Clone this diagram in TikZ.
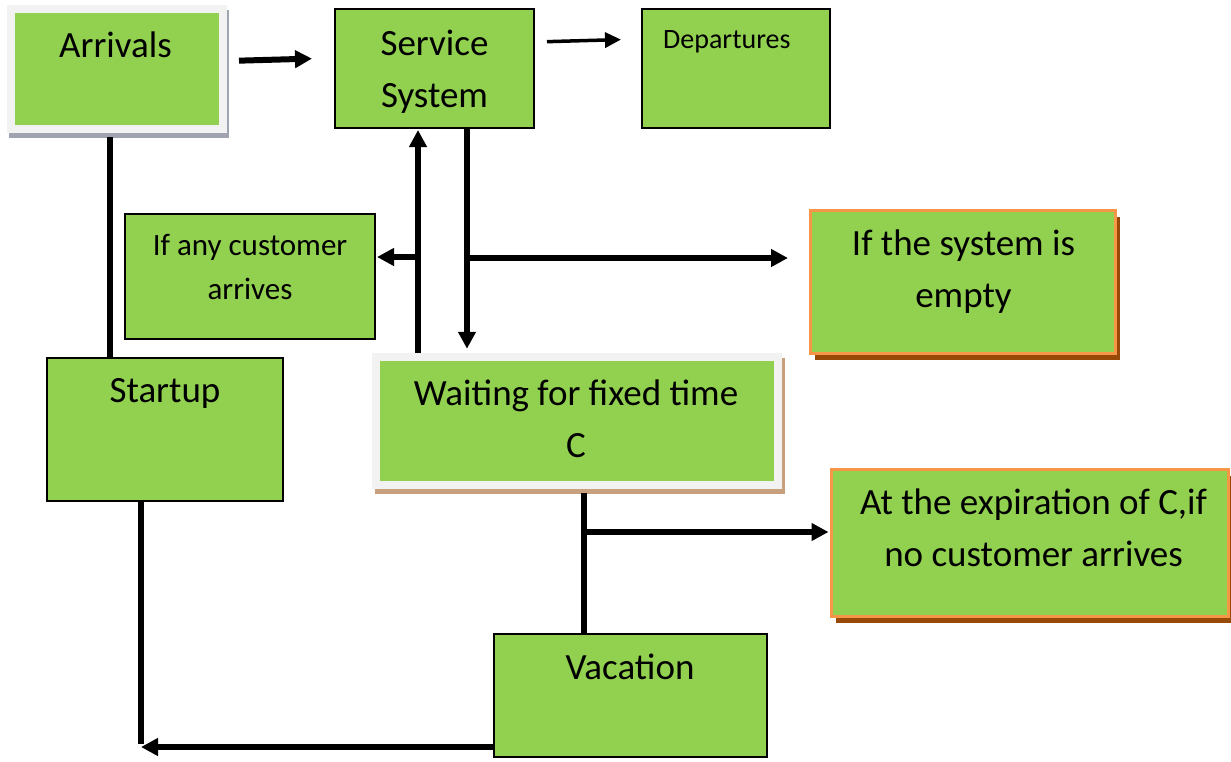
\documentclass[tikz,border=0pt]{standalone}
\usepackage{fontspec}
\setmainfont{Carlito}
\usetikzlibrary{arrows.meta, positioning, shadows}
\definecolor{boxgreen}{RGB}{146, 208, 80}
\definecolor{framegray}{RGB}{242, 242, 242}
\definecolor{noteorange}{RGB}{247, 150, 70}
\definecolor{notebrown}{RGB}{152, 72, 7}
\definecolor{shadowgray}{RGB}{160, 164, 176}
\definecolor{shadowtan}{RGB}{200, 160, 125}
\tikzset{
  stagebox/.style={rectangle, draw=black, line width=2pt, fill=boxgreen, inner sep=0pt},
  framebox/.style={rectangle, draw=framegray, line width=8pt, fill=boxgreen, inner sep=0pt},
  notebox/.style={rectangle, draw=noteorange, line width=3pt, fill=boxgreen, inner sep=0pt,
    general shadow={fill=notebrown, shadow xshift=4pt, shadow yshift=-6pt}},
  boxtext/.style={font=\fontsize{37}{52}\selectfont, align=center, inner sep=0pt, anchor=base},
  flow/.style={line width=6pt, -{Triangle[length=17pt, width=17pt]}},
  wire/.style={line width=6pt}
}

\begin{document}
\begin{tikzpicture}[x=1pt, y=-1pt]
\useasboundingbox (0,0) rectangle (1231,761);

% Top row
\node (arrivals) [framebox, minimum width=212pt, minimum height=120pt,
  general shadow={draw=shadowgray, fill=shadowgray, line width=8pt, shadow xshift=2pt, shadow yshift=-5pt}] at (117,69) {};
\node (service) [stagebox, minimum width=199pt, minimum height=119pt] at (434.5,68.5) {};
\node (departures) [stagebox, minimum width=188pt, minimum height=119pt] at (736,68.5) {};

% Middle row
\node (anycust) [stagebox, minimum width=250pt, minimum height=125pt] at (250,276.5) {};
\node (empty) [notebox, minimum width=305pt, minimum height=143pt] at (963,282) {};
\node (startup) [stagebox, minimum width=236pt, minimum height=143pt] at (165,429.5) {};
\node (waiting) [framebox, minimum width=402pt, minimum height=128.5pt,
  general shadow={draw=shadowtan, fill=shadowtan, line width=8pt, shadow xshift=3pt, shadow yshift=-5pt}] at (577,421) {};

% Bottom row
\node (expire) [notebox, minimum width=397pt, minimum height=147pt] at (1030,543) {};
\node (vacation) [stagebox, minimum width=273pt, minimum height=123pt] at (630.5,695.5) {};

% Labels (base sits on the last line)
\node (arrivalslbl) [boxtext] at (115.5,57) {Arrivals};
\node (servicelbl) [boxtext] at (434.5,107) {Service\\System};
\node (departureslbl) [boxtext, anchor=base west, font=\fontsize{28}{34}\selectfont] at (663,48) {Departures};
\node (anycustlbl) [boxtext, font=\fontsize{31}{44}\selectfont] at (250,299) {If any customer\\arrives};
\node (emptylbl) [boxtext] at (963.5,307) {If the system is\\empty};
\node (startuplbl) [boxtext] at (165,402) {Startup};
\node (waitinglbl) [boxtext] at (576,457) {Waiting for fixed time\\C};
\node (expirelbl) [boxtext] at (1033.5,566) {At the expiration of C,if\\no customer arrives};
\node (vacationlbl) [boxtext] at (630,679) {Vacation};

% Branch points
\coordinate (upleft) at (418,257);
\coordinate (downright) at (467,258);
\coordinate (waitbranch) at (584,532);
\coordinate (corner) at (141,747);

% Connectors
\draw [flow, shorten <=12pt, shorten >=22pt] ([yshift=8pt]arrivals.east) -- ([yshift=10.5pt]service.west);
\draw [line width=3.5pt, -{Triangle[length=16pt, width=15pt]}, shorten <=12pt, shorten >=20pt]
  ([yshift=26.5pt]service.east) -- ([yshift=29.5pt]departures.west);
\draw [wire, shorten <=4pt] ([xshift=-7pt]arrivals.south) -- ([xshift=-7pt]arrivals.south |- startup.north);
\draw [flow, shorten >=1pt] (waiting.north -| upleft) -- (service.south -| upleft);
\draw [flow, shorten >=4pt] (service.south -| downright) -- (waiting.north -| downright);
\draw [flow, shorten >=1pt] (upleft) -- (anycust.east |- upleft);
\draw [flow, shorten >=21pt] (downright) -- (empty.west |- downright);
\draw [wire, shorten <=4pt] (waiting.south -| waitbranch) -- (vacation.north -| waitbranch);
\draw [flow, shorten >=1.5pt] (waitbranch) -- (expire.west |- waitbranch);
\draw [wire, shorten >=3pt] (startup.south -| corner) -- (corner);
\draw [flow] (vacation.west |- corner) -- (corner);

\end{tikzpicture}
\end{document}
